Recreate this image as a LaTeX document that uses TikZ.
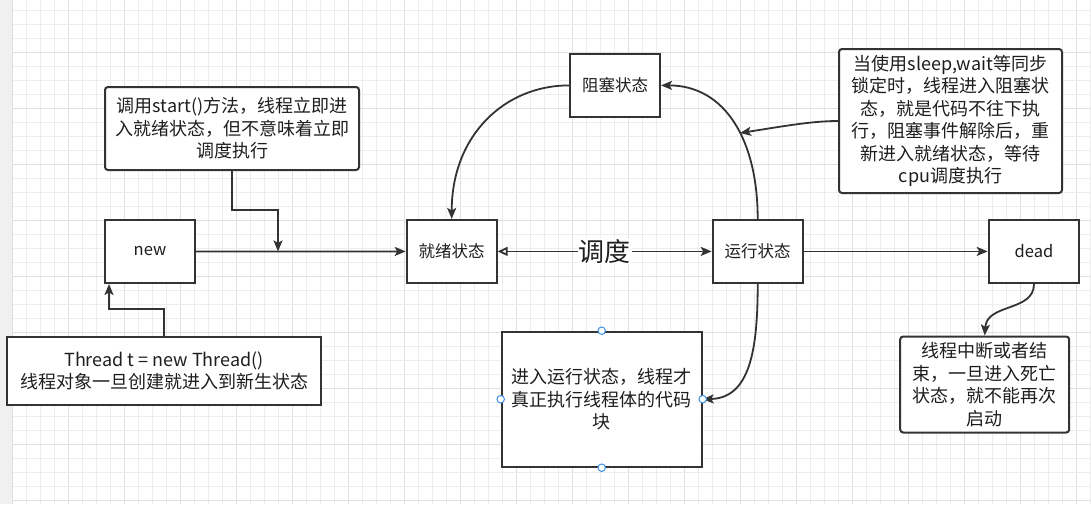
\documentclass[tikz,border=0pt]{standalone}
\usepackage{fontspec}
\setmainfont{Noto Sans CJK SC}
\usetikzlibrary{arrows.meta}
\definecolor{ln}{HTML}{333333}
\definecolor{txt}{HTML}{1E1E1E}
\definecolor{gridminor}{HTML}{EDEDED}
\definecolor{gridmajor}{HTML}{E0E0E0}
\definecolor{strip}{HTML}{F0F0F0}
\definecolor{hnd}{HTML}{3D8FE8}
\tikzset{
  box/.style={draw=ln, line width=2pt, fill=white, inner sep=0pt, text=txt,
    minimum width=90pt, minimum height=63pt, align=center, font=\fontsize{16.5}{21}\selectfont},
  note/.style={box, rounded corners=3pt, font=\fontsize{18}{22.5}\selectfont},
  conn/.style={draw=ln, line width=1.8pt, -{Stealth[length=11pt,width=9pt,inset=2.5pt]}},
  handle/.style={circle, draw=hnd, fill=white, line width=1pt, minimum size=7.5pt, inner sep=0pt},
}
\begin{document}
\begin{tikzpicture}[x=1pt, y=-1pt]
\useasboundingbox (0,0) rectangle (1091,504);
\fill[white] (0,0) rectangle (1091,504);
\fill[strip] (0,0) rectangle (12.7,504);
% grid
\foreach \i in {1,...,77} {
  \pgfmathtruncatemacro{\m}{mod(\i,4)}
  \ifnum\m=0
    \draw[gridmajor, line width=1pt] ({12.7+14*\i},0) -- ({12.7+14*\i},504);
  \else
    \draw[gridminor, line width=1pt] ({12.7+14*\i},0) -- ({12.7+14*\i},504);
  \fi
}
\draw[gridmajor, line width=1pt] (12.7,0) -- (12.7,504);
\foreach \j in {0,...,35} {
  \pgfmathtruncatemacro{\m}{mod(\j,4)}
  \ifnum\m=3
    \draw[gridmajor, line width=1pt] (12.7,{10+14*\j}) -- (1091,{10+14*\j});
  \else
    \draw[gridminor, line width=1pt] (12.7,{10+14*\j}) -- (1091,{10+14*\j});
  \fi
}

% nodes
\node[box] (new) at (150,251.5) {new};
\node[box] (ready) at (451.7,251.4) {就绪状态};
\node[box] (block) at (615,85.4) {阻塞状态};
\node[box] (run) at (757.7,251.4) {运行状态};
\node[box, minimum width=90.6pt] (dead) at (1034,251.4) {dead};
\node[note, minimum width=254pt, minimum height=83pt] (startnote) at (232,128.5)
  {调用start()方法，线程立即进\\入就绪状态，但不意味着立即\\调度执行};
\node[box, font=\fontsize{18}{21.7}\selectfont, minimum width=314pt, minimum height=68pt] (threadnote) at (164,371)
  {Thread t = new Thread()\\线程对象一旦创建就进入到新生状态};
\node[note, minimum width=223pt, minimum height=144pt] (bignote) at (950.5,121)
  {当使用sleep,wait等同步\\锁定时，线程进入阻塞状\\态，就是代码不往下执\\行，阻塞事件解除后，重\\新进入就绪状态，等待\\cpu调度执行};
\node[box, font=\fontsize{18}{22.7}\selectfont, minimum width=200pt, minimum height=135pt] (code) at (601.7,399.2)
  {进入运行状态，线程才\\真正执行线程体的代码\\块};
\node[note, minimum width=169pt, minimum height=96pt] (deadnote) at (984.7,384.5)
  {线程中断或者结\\束，一旦进入死亡\\状态，就不能再次\\启动};

% connectors
\draw[conn] (new.east) -- (ready.west);
\coordinate (sj) at (278,210);
\coordinate (sm) at (278,251.4);
\draw[conn] (startnote.south) |- (sj) -- (sm);
\coordinate (tj) at (109,309);
\draw[conn] (threadnote.north) |- (tj) -- (tj |- new.south);
\draw[conn] (block.west) .. controls (505,85.4) and (451.7,135) .. (ready.north);
\draw[conn] (run.north) .. controls (757.7,140) and (725,85.4) .. (block.east);
\coordinate (ar) at (740,133);
\draw[conn] (bignote.west) .. controls (812,121) and (785,126) .. (ar);
\draw[draw=ln, line width=1.8pt, {Triangle[open,length=10pt,width=9pt]}-{Stealth[length=11pt,width=9pt,inset=2.5pt]}]
  (ready.east) -- node[fill=white, inner sep=1pt, text=txt, font=\fontsize{26}{26}\selectfont] (sched) {调度} (run.west);
\draw[conn] (run.east) -- (dead.west);
\draw[conn] (run.south) .. controls (757.7,350) and (750,398) .. (code.east);
\draw[conn] (dead.south) .. controls (1034,312) and (986.7,303) .. (deadnote.north);

% selection handles
\node[handle] (hn) at (code.north) {};
\node[handle] (hs) at (code.south) {};
\node[handle] (hw) at (code.west) {};
\node[handle] (he) at (code.east) {};
\end{tikzpicture}
\end{document}
